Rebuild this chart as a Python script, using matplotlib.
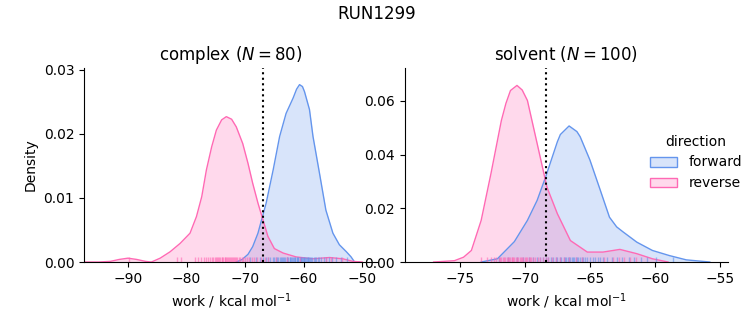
import matplotlib
matplotlib.use("Agg")
import matplotlib.pyplot as plt

FORWARD_COLOR = "#6495ED"
REVERSE_COLOR = "#FF69B4"

# KDE curves (x = work in kcal/mol, y = density)
complex_reverse_x = [-97.5, -95.0, -93.0, -91.5, -90.0, -88.5, -87.0, -86.0, -84.5, -82.8,
                     -81.1, -79.4, -78.3, -77.4, -76.6, -75.7, -74.9, -74.0, -73.2, -72.3,
                     -71.5, -70.4, -69.5, -68.7, -67.8, -66.95, -66.1, -65.0, -63.5, -61.3,
                     -58.5, -55.6, -53.3, -51.6, -50.0]
complex_reverse_y = [0.0, 0.0, 0.0001, 0.0004, 0.0006, 0.0004, 0.0001, 0.0, 0.0006, 0.0016,
                     0.0029, 0.0045, 0.0071, 0.0102, 0.0144, 0.0180, 0.0206, 0.0222, 0.0227, 0.0223,
                     0.0211, 0.0185, 0.0154, 0.0123, 0.0092, 0.0066, 0.0040, 0.0021, 0.0014, 0.0008,
                     0.0005, 0.0007, 0.0005, 0.0001, 0.0]

complex_forward_x = [-71.5, -70.5, -69.5, -68.7, -67.8, -67.0, -66.4, -65.2, -64.1, -63.0,
                     -61.8, -61.2, -60.7, -60.2, -59.85, -59.0, -58.4, -57.3, -56.2, -55.0,
                     -53.9, -52.7, -51.9, -51.3, -50.5]
complex_forward_y = [0.0, 0.0004, 0.0012, 0.0024, 0.0045, 0.0072, 0.0092, 0.0144, 0.0196, 0.0232,
                     0.0256, 0.0270, 0.0277, 0.0274, 0.0266, 0.0238, 0.0196, 0.0139, 0.0081, 0.0045,
                     0.0027, 0.0016, 0.0008, 0.0, 0.0]

solvent_reverse_x = [-77.0, -75.4, -74.7, -74.1, -73.35, -72.6, -71.8, -71.45, -71.1, -70.6,
                     -70.2, -69.8, -69.05, -68.3, -67.5, -66.5, -65.2, -64.0, -62.7, -61.4,
                     -60.2, -59.0]
solvent_reverse_y = [0.0, 0.0005, 0.0018, 0.0043, 0.0155, 0.0329, 0.0527, 0.0591, 0.0639, 0.0658,
                     0.0641, 0.0602, 0.0441, 0.0279, 0.0180, 0.0080, 0.0037, 0.0037, 0.0047, 0.0031,
                     0.0012, 0.0]

solvent_forward_x = [-73.35, -72.1, -70.8, -69.8, -69.05, -68.4, -67.5, -67.27, -66.6, -66.0,
                     -65.75, -65.0, -64.2, -63.5, -62.95, -62.45, -61.4, -60.2, -58.9, -57.6,
                     -55.8]
solvent_forward_y = [0.0, 0.0012, 0.0076, 0.0155, 0.0230, 0.0317, 0.0448, 0.0475, 0.0507, 0.0486,
                     0.0467, 0.0380, 0.0267, 0.0167, 0.0131, 0.0112, 0.0074, 0.0043, 0.0024, 0.0008,
                     0.0]

# individual work values shown as rug ticks
complex_reverse_work = [-89.8, -81.7, -80.9, -78.6, -78.0, -77.5, -77.0, -76.6, -76.3, -76.0,
                        -75.7, -75.5, -75.2, -75.0, -74.8, -74.6, -74.4, -74.2, -74.0, -73.9,
                        -73.7, -73.5, -73.4, -73.2, -73.1, -72.9, -72.7, -72.6, -72.4, -72.2,
                        -72.0, -71.9, -71.7, -71.5, -71.3, -71.1, -70.9, -70.6, -70.3, -70.0,
                        -69.7, -69.3, -68.9, -68.4, -67.9, -67.3, -66.6, -66.0, -64.8, -62.9,
                        -60.6, -56.2, -55.4, -53.5]
complex_forward_work = [-69.2, -68.1, -67.5, -66.9, -66.4, -66.0, -65.7, -65.3, -65.0, -64.8,
                        -64.5, -64.3, -64.1, -63.9, -63.7, -63.5, -63.3, -63.1, -62.9, -62.8,
                        -62.6, -62.4, -62.3, -62.1, -62.0, -61.8, -61.7, -61.5, -61.4, -61.2,
                        -61.1, -61.0, -60.9, -60.7, -60.6, -60.5, -60.4, -60.2, -60.1, -60.0,
                        -59.9, -59.7, -59.6, -59.5, -59.3, -59.2, -59.0, -58.9, -58.7, -58.5,
                        -58.3, -58.1, -57.9, -57.6, -57.3, -57.0, -56.6, -56.2, -55.7, -55.1,
                        -54.4, -53.6, -52.6]
solvent_reverse_work = [-73.4, -72.9, -72.6, -72.4, -72.2, -72.0, -71.9, -71.8, -71.7, -71.6,
                        -71.5, -71.4, -71.3, -71.2, -71.1, -71.0, -70.95, -70.9, -70.8, -70.7,
                        -70.6, -70.5, -70.4, -70.3, -70.2, -70.1, -70.0, -69.9, -69.8, -69.7,
                        -69.6, -69.5, -69.4, -69.2, -69.0, -68.8, -68.6, -68.4, -68.2, -67.9,
                        -67.6, -67.3, -67.0, -66.6, -66.1, -65.6, -63.9, -63.2, -62.8, -62.4,
                        -61.9, -61.5]
solvent_forward_work = [-72.0, -71.3, -70.6, -70.1, -69.7, -69.4, -69.1, -68.8, -68.6, -68.4,
                        -68.2, -68.0, -67.8, -67.6, -67.5, -67.3, -67.2, -67.0, -66.9, -66.8,
                        -66.7, -66.6, -66.5, -66.4, -66.3, -66.2, -66.1, -66.0, -65.9, -65.8,
                        -65.6, -65.5, -65.4, -65.2, -65.0, -64.8, -64.6, -64.4, -64.2, -64.0,
                        -63.7, -63.3, -62.9, -62.5, -62.0, -61.6, -61.1, -60.6, -59.9, -58.6]

phase_titles = [r"complex ($N = 80$)", r"solvent ($N = 100$)"]
dotted_x = [-67.0, -68.4]
xlims = [(-97.5, -47.3), (-79.2, -54.4)]
ylims = [(0, 0.0303), (0, 0.0723)]


def draw_panel(ax, fwd, rev, fwd_work, rev_work, vline, title, xlim, ylim):
    for (x, y), color in [(fwd, FORWARD_COLOR), (rev, REVERSE_COLOR)]:
        ax.fill_between(x, y, color=color, alpha=0.25, linewidth=0)
        ax.plot(x, y, color=color, linewidth=1.0)
    for work, color in [(fwd_work, FORWARD_COLOR), (rev_work, REVERSE_COLOR)]:
        ax.vlines(work, 0, 0.025, transform=ax.get_xaxis_transform(),
                  color=color, linewidth=1.0, alpha=0.6)
    ax.axvline(vline, color="black", linestyle=":", linewidth=1.5)
    ax.set_xlim(*xlim)
    ax.set_ylim(*ylim)
    ax.set_title(title, fontsize=12)
    ax.set_xlabel(r"work / kcal mol$^{-1}$")
    ax.spines["top"].set_visible(False)
    ax.spines["right"].set_visible(False)


fig = plt.figure(figsize=(7.53, 3.25), dpi=100)
ax1 = fig.add_axes([0.1116, 0.1938, 0.3904, 0.597])
ax2 = fig.add_axes([0.5378, 0.1938, 0.429, 0.597])

draw_panel(ax1, (complex_forward_x, complex_forward_y), (complex_reverse_x, complex_reverse_y),
           complex_forward_work, complex_reverse_work, dotted_x[0], phase_titles[0], xlims[0], ylims[0])
draw_panel(ax2, (solvent_forward_x, solvent_forward_y), (solvent_reverse_x, solvent_reverse_y),
           solvent_forward_work, solvent_reverse_work, dotted_x[1], phase_titles[1], xlims[1], ylims[1])

ax1.set_ylabel("Density")
ax1.set_yticks([0.0, 0.01, 0.02, 0.03])
ax1.set_xticks([-90, -80, -70, -60, -50])
ax2.set_yticks([0.0, 0.02, 0.04, 0.06])
ax2.set_xticks([-75, -70, -65, -60, -55])

handles = [plt.Rectangle((0, 0), 1, 1, facecolor=matplotlib.colors.to_rgba(c, 0.25), edgecolor=c)
           for c in (FORWARD_COLOR, REVERSE_COLOR)]
fig.legend(handles, ["forward", "reverse"], title="direction", loc="center left",
           bbox_to_anchor=(0.846, 0.5), frameon=False)

fig.suptitle("RUN1299", fontsize=12, y=0.985)

fig.savefig("out.png", dpi=100)
